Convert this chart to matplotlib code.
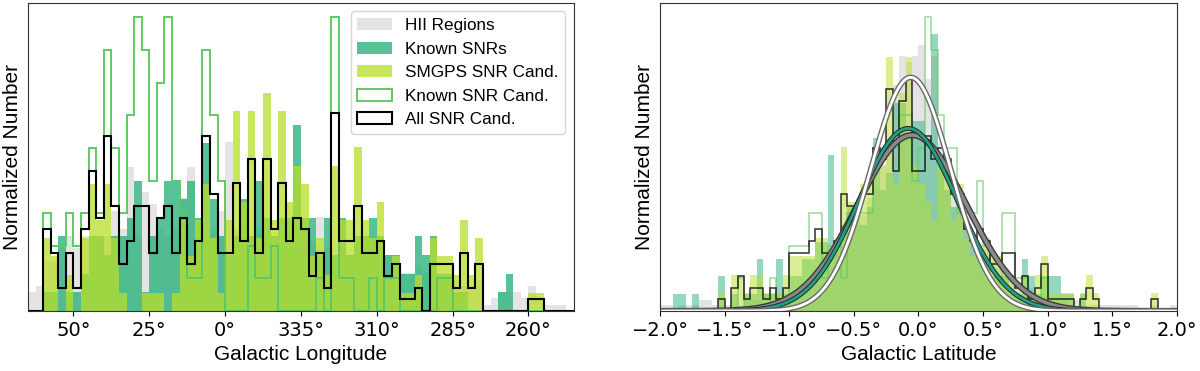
import matplotlib
matplotlib.use("Agg")
import matplotlib.pyplot as plt
import matplotlib.patheffects as pe
from matplotlib.ticker import FuncFormatter
import numpy as np

plt.rcParams['font.family'] = 'DejaVu Sans'
label_font = 'Liberation Sans'

# ---- Galactic longitude: 2.5 deg bins, listed from l = 65 deg down to l = -115 deg (245 deg)
lon_edges = np.arange(-115, 65.01, 2.5)
lon_centers = 63.75 - 2.5 * np.arange(72)

hii_lon = [3, 4, 8, 8, 10, 12, 10, 12, 12, 12, 12, 16,
           13, 23, 12, 19, 17, 13, 12, 13, 18, 23, 13, 12,
           13, 16, 27, 13, 13, 12, 13, 11, 12, 11, 12, 11,
           10, 11, 15, 10, 9, 11, 9, 10, 11, 10, 9, 9,
           8, 6, 6, 7, 6, 6, 6, 5, 5, 4, 4, 5,
           1, 2, 3, 3, 3, 2, 4, 2, 1, 1, 1, 0]
snr_lon = [0, 0, 1, 1, 4, 1, 1, 2, 4, 4, 3, 4,
           4, 5, 7, 1, 4, 5, 7, 7, 6, 7, 5, 9,
           6, 4, 3, 4, 6, 4, 7, 5, 4, 5, 5, 10,
           5, 5, 3, 5, 3, 5, 3, 4, 4, 5, 4, 3,
           3, 2, 2, 4, 3, 4, 2, 2, 1, 1, 0, 0,
           0, 0, 1, 2, 0, 0, 0, 0, 0, 0, 0, 0]
smgps_lon = [0, 0, 4, 3, 0, 2, 0, 4, 7, 5, 7, 4,
             1, 0, 0, 1, 1, 1, 0, 1, 5, 3, 5, 7,
             4, 1, 5, 11, 6, 11, 4, 12, 5, 11, 6, 8,
             7, 3, 4, 2, 8, 5, 5, 9, 5, 4, 6, 2,
             3, 1, 1, 2, 0, 4, 3, 3, 2, 5, 2, 4,
             0, 0, 0, 0, 0, 0, 1, 1, 0, 0, 0, 0]
cand_lon = [0, 0, 3, 2, 2, 3, 2, 3, 5, 3, 8, 5,
            3, 6, 9, 8, 4, 7, 9, 4, 3, 1, 1, 8,
            6, 4, 0, 0, 0, 2, 1, 1, 2, 0, 0, 0,
            0, 0, 1, 0, 9, 1, 1, 0, 0, 1, 0, 1,
            1, 0, 0, 0, 0, 0, 1, 1, 0, 0, 0, 0,
            0, 0, 0, 0, 0, 0, 0, 0, 0, 0, 0, 0]

# ---- Galactic latitude: 0.05 deg bins from -2 to 2
lat_edges = np.linspace(-2, 2, 81)
lat_centers = 0.5 * (lat_edges[1:] + lat_edges[:-1])

hii_lat = [1, 1, 0, 1, 1, 1, 2, 2, 1, 1,
           1, 1, 1, 2, 2, 2, 3, 3, 3, 4,
           3, 4, 5, 5, 6, 7, 8, 10, 11, 13,
           15, 17, 20, 22, 26, 30, 40, 45, 44, 45,
           47, 41, 45, 30, 26, 22, 18, 19, 13, 11,
           11, 9, 8, 7, 6, 5, 4, 4, 3, 3,
           2, 2, 2, 1, 2, 1, 1, 1, 1, 1,
           1, 1, 1, 1, 0, 0, 1, 0, 0, 1]
snr_lat = [0, 0, 1, 1, 0, 1, 0, 0, 0, 2,
           0, 1, 0, 1, 1, 3, 1, 1, 3, 1,
           2, 2, 3, 3, 4, 4, 9, 4, 5, 6,
           6, 5, 6, 10, 7, 8, 12, 12, 10, 11,
           11, 10, 16, 9, 7, 6, 6, 5, 4, 3,
           3, 2, 2, 2, 1, 1, 3, 2, 1, 2,
           2, 2, 1, 1, 0, 1, 0, 0, 0, 0,
           0, 0, 0, 0, 0, 0, 0, 0, 0, 0]
smgps_lat = [0, 0, 0, 0, 0, 0, 0, 0, 0, 1,
             0, 2, 2, 1, 2, 2, 1, 1, 1, 2,
             3, 3, 3, 3, 4, 4, 3, 4, 9, 6,
             6, 7, 7, 9, 8, 14, 7, 12, 14, 8,
             7, 6, 5, 8, 8, 5, 7, 4, 3, 3,
             4, 3, 3, 2, 2, 1, 2, 1, 2, 3,
             1, 1, 1, 1, 0, 1, 2, 1, 0, 0,
             0, 0, 0, 0, 0, 0, 1, 0, 0, 0]
cand_lat = [0, 0, 0, 0, 0, 0, 0, 0, 0, 0,
            0, 0, 1, 0, 0, 0, 0, 1, 0, 0,
            2, 2, 2, 3, 3, 1, 2, 2, 1, 3,
            3, 3, 3, 5, 5, 5, 5, 6, 6, 4,
            5, 9, 8, 6, 5, 5, 3, 3, 3, 4,
            2, 1, 1, 3, 3, 1, 1, 0, 0, 1,
            0, 0, 0, 0, 0, 0, 0, 0, 0, 0,
            0, 0, 0, 0, 0, 0, 0, 0, 0, 0]

# gaussian fits to the latitude distributions: amplitude, centre, width
fit_all = [0.817, -0.05, 0.42]
fit_snr = [0.848, -0.08, 0.38]
fit_hii = [1.085, -0.06, 0.31]

c_hii = '#d3d3d3'
c_snr = '#2db27d'
c_smgps = '#b8de29'
c_cand = '#5ec962'

all_lon = np.array(smgps_lon) + np.array(cand_lon)
all_lat = np.array(smgps_lat) + np.array(cand_lat)


def gauss(x, a, mu, sig):
    return a * np.exp(-0.5 * ((x - mu) / sig) ** 2)


fig = plt.figure(figsize=(12, 3.71), dpi=100)
ax1 = fig.add_axes([0.0233, 0.1617, 0.455, 0.831])
ax2 = fig.add_axes([0.55, 0.1617, 0.4308, 0.831])

# Longitude panel
ax1.hist(lon_centers, bins=lon_edges, weights=hii_lon, density=True,
         color=c_hii, alpha=0.6, label='HII Regions')
ax1.hist(lon_centers, bins=lon_edges, weights=snr_lon, density=True,
         color=c_snr, alpha=0.8, label='Known SNRs')
ax1.hist(lon_centers, bins=lon_edges, weights=smgps_lon, density=True,
         color=c_smgps, alpha=0.75, label='SMGPS SNR Cand.')
ax1.hist(lon_centers, bins=lon_edges, weights=cand_lon, density=True,
         histtype='step', color=c_cand, lw=1.4, label='Known SNR Cand.')
ax1.hist(lon_centers, bins=lon_edges, weights=all_lon, density=True,
         histtype='step', color='k', lw=1.5, label='All SNR Cand.')
ax1.set_xlim(65, -115)
ax1.set_xticks([50, 25, 0, -25, -50, -75, -100])
ax1.xaxis.set_major_formatter(FuncFormatter(lambda v, p: f"{int(round(v)) % 360}°"))
ax1.legend(loc='upper right', prop={'family': label_font, 'size': 12.3})

# Latitude panel
ax2.hist(lat_centers, bins=lat_edges, weights=hii_lat, density=True,
         color=c_hii, alpha=0.6)
ax2.hist(lat_centers, bins=lat_edges, weights=snr_lat, density=True,
         color=c_snr, alpha=0.5)
ax2.hist(lat_centers, bins=lat_edges, weights=smgps_lat, density=True,
         color=c_smgps, alpha=0.5)
ax2.hist(lat_centers, bins=lat_edges, weights=cand_lat, density=True,
         histtype='step', color=c_cand, alpha=0.6, lw=1.2)
ax2.hist(lat_centers, bins=lat_edges, weights=all_lat, density=True,
         histtype='step', color='k', alpha=0.75, lw=1.2)

xx = np.linspace(-2, 2, 500)
ax2.plot(xx, gauss(xx, *fit_all), color='#8a8a8a', lw=2.5,
         path_effects=[pe.Stroke(linewidth=4.5, foreground='#3a3a3a'), pe.Normal()])
ax2.plot(xx, gauss(xx, *fit_snr), color='#1fa187', lw=2,
         path_effects=[pe.Stroke(linewidth=3.5, foreground='#2a2a2a'), pe.Normal()])
ax2.plot(xx, gauss(xx, *fit_hii), color='white', lw=2,
         path_effects=[pe.Stroke(linewidth=4, foreground='#6a6a6a'), pe.Normal()])
ax2.set_xlim(-2, 2)
ax2.set_xticks(np.arange(-2, 2.01, 0.5))
ax2.xaxis.set_major_formatter(FuncFormatter(lambda v, p: f"{v:.1f}°".replace('-', '\u2212')))

for ax, xl in [(ax1, 'Galactic Longitude'), (ax2, 'Galactic Latitude')]:
    ax.set_yticks([])
    ax.set_ylabel('Normalized Number', family=label_font, fontsize=15)
    ax.set_xlabel(xl, family=label_font, fontsize=15)
    ax.tick_params(axis='x', labelsize=14)
    for s in ax.spines.values():
        s.set_color('#333333')

fig.savefig('out.png', dpi=100)
